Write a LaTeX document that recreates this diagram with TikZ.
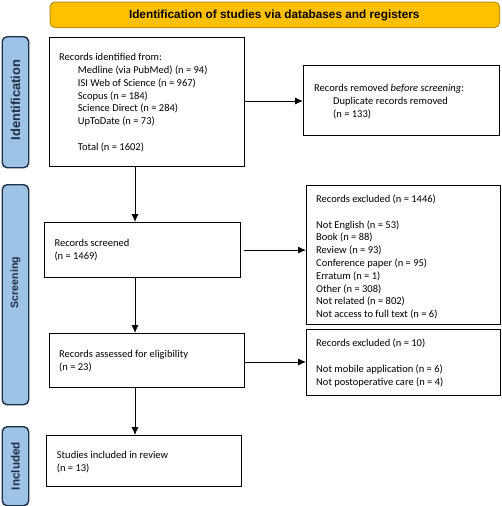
\documentclass[tikz,border=0pt]{standalone}
\usepackage{fontspec}
\setmainfont{Carlito}
\newfontfamily\headfont{Liberation Sans}
\usetikzlibrary{arrows.meta,calc}
\definecolor{bannerfill}{HTML}{FFC000}
\definecolor{bannerdraw}{HTML}{BF9000}
\definecolor{sidefill}{HTML}{9DC3E6}
\definecolor{sidedraw}{HTML}{1F2D45}
\begin{document}
\begin{tikzpicture}[x=1pt,y=-1pt,
  box/.style={draw=black,line width=1.2pt,anchor=north west,inner sep=0pt},
  txt/.style={anchor=base west,align=left,inner sep=0pt,font=\fontsize{10.5}{12.8}\selectfont},
  side/.style={draw=sidedraw,fill=sidefill,line width=1.4pt,rounded corners=5pt,anchor=north west,inner sep=0pt,minimum width=26.5pt},
  sidetxt/.style={rotate=90,inner sep=0pt,text=sidedraw},
  arr/.style={line width=0.9pt,-{Latex[length=8pt,width=7pt]}}]
\useasboundingbox (0,0) rectangle (501,506);
% banner
\node[draw=bannerdraw,fill=bannerfill,line width=1pt,rounded corners=5pt,anchor=north west,inner sep=0pt,minimum width=449.5pt,minimum height=25.5pt] (ban) at (49.5,1.5) {};
\node[font=\headfont\bfseries\fontsize{11.8}{13}\selectfont] (bant) at (274.25,15) {Identification of studies via databases and registers};
% side labels
\node[side,minimum height=131pt] (s1) at (1.5,36) {};
\node[sidetxt,font=\headfont\bfseries\fontsize{12.9}{14}\selectfont] (s1t) at (15.5,100) {Identification};
\node[side,minimum height=220pt] (s2) at (1.5,184) {};
\node[sidetxt,font=\headfont\bfseries\fontsize{10.6}{12}\selectfont] (s2t) at (15.5,282.5) {Screening};
\node[side,minimum height=79pt] (s3) at (1.5,426) {};
\node[sidetxt,font=\headfont\bfseries\fontsize{11.7}{13}\selectfont] (s3t) at (15.5,466) {Included};
% boxes (text nodes anchored at the baseline of their last line)
\node[box,minimum width=195pt,minimum height=129pt] (b1) at (49,37) {};
\node[txt] (b1t) at (59,150.3) {Records identified from:\\
\hspace*{18.7pt}Medline (via PubMed) (n = 94)\\
\hspace*{18.7pt}ISI Web of Science (n = 967)\\
\hspace*{18.7pt}Scopus (n = 184)\\
\hspace*{18.7pt}Science Direct (n = 284)\\
\hspace*{18.7pt}UpToDate (n = 73)\\[12.8pt]
\hspace*{18.7pt}Total (n = 1602)};
\node[box,minimum width=196pt,minimum height=70pt] (rem) at (303,65) {};
\node[txt] (remt) at (314,117.3) {Records removed \textit{before screening}:\\
\hspace*{19pt}Duplicate records removed\\
\hspace*{19pt}(n = 133)};
\node[box,minimum width=196pt,minimum height=55pt] (scr) at (44,222) {};
\node[txt] (scrt) at (54.3,259.5) {Records screened\\(n = 1469)};
\node[box,minimum width=194pt,minimum height=139pt] (ex1) at (306,185) {};
\node[txt] (ex1t) at (316,317.6) {Records excluded (n = 1446)\\[12.8pt]
Not English (n = 53)\\
Book (n = 88)\\
Review (n = 93)\\
Conference paper (n = 95)\\
Erratum (n = 1)\\
Other (n = 308)\\
Not related (n = 802)\\
Not access to full text (n = 6)};
\node[box,minimum width=195pt,minimum height=54pt] (ass) at (49,333) {};
\node[txt] (asst) at (59,370.2) {Records assessed for eligibility\\(n = 23)};
\node[box,minimum width=194pt,minimum height=66pt] (ex2) at (306,329) {};
\node[txt] (ex2t) at (316,385.1) {Records excluded (n = 10)\\[12.8pt]
Not mobile application (n = 6)\\
Not postoperative care (n = 4)};
\node[box,minimum width=195pt,minimum height=51pt] (inc) at (46,435) {};
\node[txt] (inct) at (56.7,471.2) {Studies included in review\\(n = 13)};
% arrows
\coordinate (vx) at (135,0);
\draw[arr] (b1.south -| vx) -- (scr.north -| vx);
\draw[arr] (scr.south -| vx) -- (ass.north -| vx);
\draw[arr] (ass.south -| vx) -- (inc.north -| vx);
\draw[arr] (b1.east |- 0,101) -- (rem.west |- 0,101);
\draw[arr] ([xshift=3pt]scr.east) -- (ex1.west |- scr.east);
\draw[arr] (ass.east |- 0,362) -- (ex2.west |- 0,362);
\end{tikzpicture}
\end{document}
